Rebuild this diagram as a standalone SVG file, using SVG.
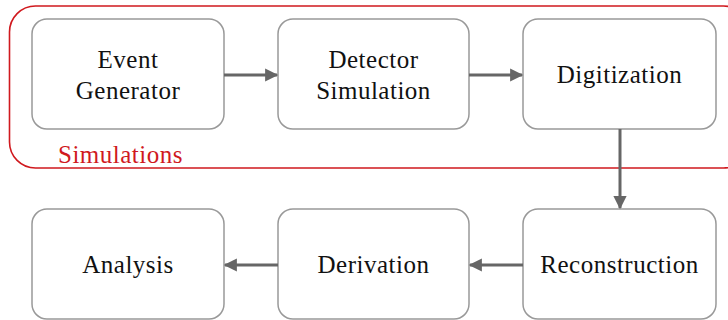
<svg xmlns="http://www.w3.org/2000/svg" width="728" height="320" viewBox="0 0 728 320">
<style>
.node rect{fill:#fff;stroke:#999;stroke-width:1.5}
.node text{font-family:"Liberation Serif",serif;font-size:25px;letter-spacing:0.5px;fill:#111;text-anchor:middle}
.edge{stroke:#666;stroke-width:3;fill:none;marker-end:url(#ah)}
.group rect{fill:none;stroke:#d0191e;stroke-width:1.6}
.group text{font-family:"Liberation Serif",serif;font-size:25px;letter-spacing:0.5px;fill:#d0191e}
</style>
<defs>
<marker id="ah" viewBox="0 0 10 10" refX="9" refY="5" markerWidth="6" markerHeight="4.4" markerUnits="strokeWidth" orient="auto">
<path d="M0,0 L10,5 L0,10 z" fill="#666"/>
</marker>
</defs>
<rect width="728" height="320" fill="#fff"/>
<g id="simulations" class="group">
<rect x="9.5" y="6" width="740" height="162" rx="26"/>
<text x="58" y="163">Simulations</text>
</g>
<g id="event-generator" class="node">
<rect x="32" y="19" width="192" height="110" rx="15"/>
<text x="128" y="68">Event</text>
<text x="128" y="99">Generator</text>
</g>
<g id="detector-simulation" class="node">
<rect x="278" y="19" width="191" height="110" rx="15"/>
<text x="373.5" y="68">Detector</text>
<text x="373.5" y="99">Simulation</text>
</g>
<g id="digitization" class="node">
<rect x="523" y="19" width="193" height="110" rx="15"/>
<text x="619.5" y="83">Digitization</text>
</g>
<g id="reconstruction" class="node">
<rect x="523" y="209" width="193" height="110" rx="15"/>
<text x="619.5" y="273">Reconstruction</text>
</g>
<g id="derivation" class="node">
<rect x="278" y="209" width="191" height="110" rx="15"/>
<text x="373.5" y="273">Derivation</text>
</g>
<g id="analysis" class="node">
<rect x="32" y="209" width="192" height="110" rx="15"/>
<text x="128" y="273">Analysis</text>
</g>
<g id="connectors">
<line class="edge" x1="224" y1="75" x2="277" y2="75"/>
<line class="edge" x1="469" y1="75" x2="522" y2="75"/>
<line class="edge" x1="620" y1="129" x2="620" y2="208"/>
<line class="edge" x1="523" y1="265" x2="470" y2="265"/>
<line class="edge" x1="278" y1="265" x2="225" y2="265"/>
</g>
</svg>
